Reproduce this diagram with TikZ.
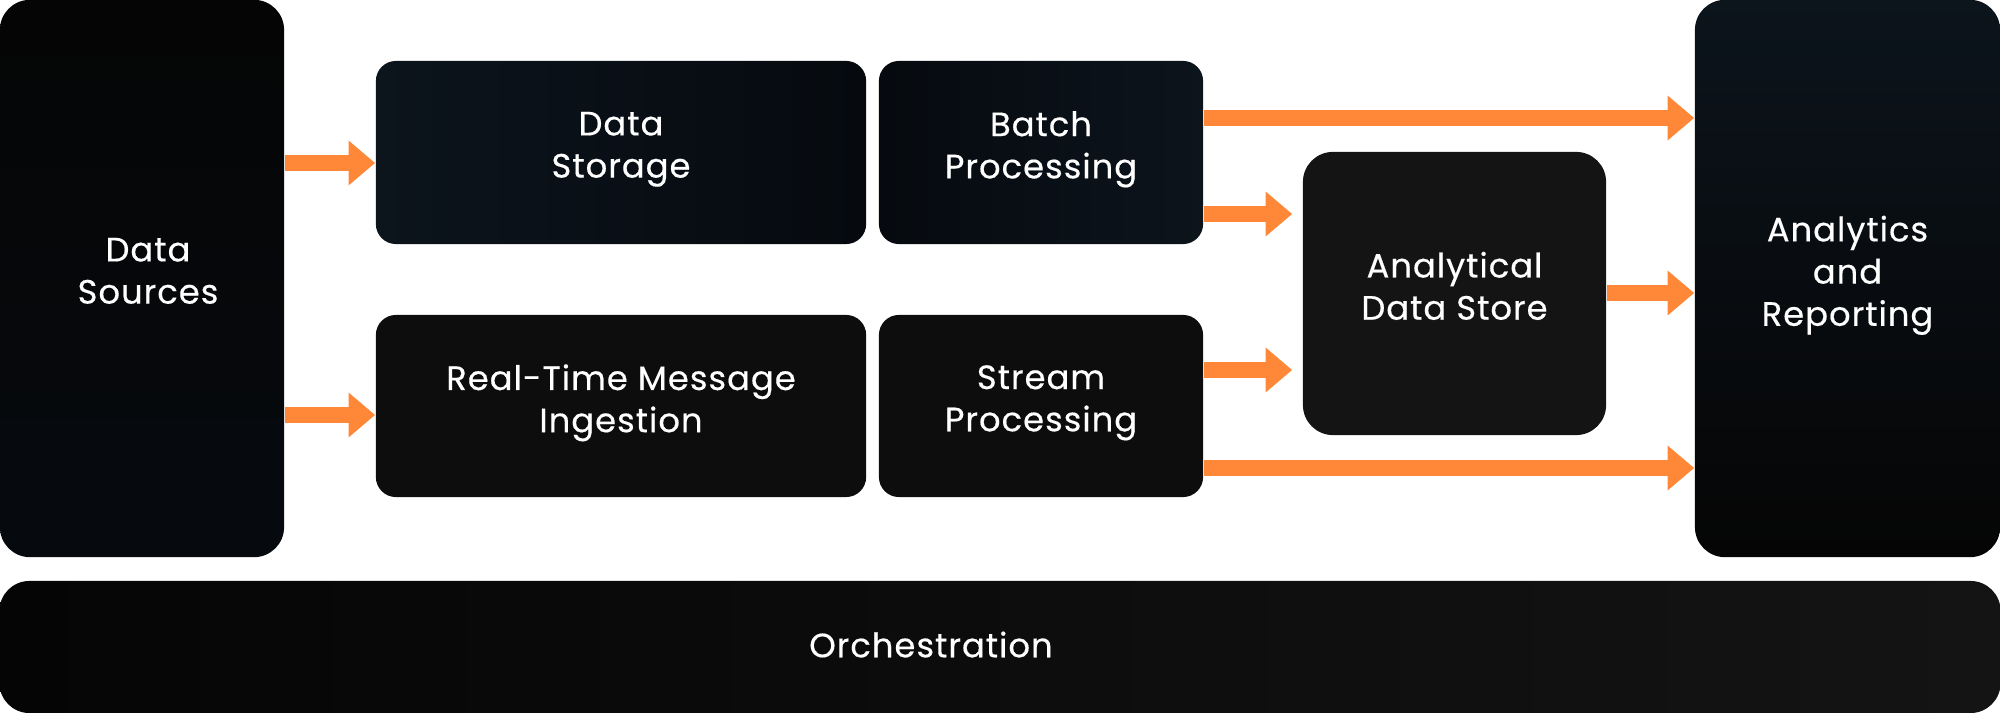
\documentclass[tikz,border=0pt]{standalone}
\usepackage{xcolor}
\usepackage{fontspec}
\setmainfont{Poppins}[LetterSpace=3, FakeBold=0.4]
\usepackage{tikz}
\usetikzlibrary{arrows.meta}

\definecolor{arroworange}{HTML}{FF8738}
\definecolor{boxblack}{HTML}{050505}
\definecolor{boxdark}{HTML}{0D0D0D}
\definecolor{boxgray}{HTML}{141414}
\definecolor{boxblue}{HTML}{0C141C}
\definecolor{boxnavy}{HTML}{060A0F}

\begin{document}
\begin{tikzpicture}[x=0.01cm, y=-0.01cm,
    box/.style={rectangle, rounded corners=0.2cm, text=white, align=center,
        font=\fontsize{9.6}{12}\selectfont,
        execute at begin node={\rule{0pt}{0.36cm}},
        execute at end node={\rule[-0.155cm]{0pt}{0pt}}},
    tallbox/.style={box, rounded corners=0.3cm},
    flow/.style={draw=arroworange, line width=0.16cm,
        -{Triangle[length=0.265cm, width=0.43cm]}}]
    \useasboundingbox (0,0) rectangle (2000,713);

    % Data Sources
    \node[tallbox, top color=boxblack, bottom color=boxnavy, minimum width=2.84cm, minimum height=5.57cm] (src) at (142,278.5) {\hspace*{0.12cm}Data\\\hspace*{0.12cm}Sources};

    % Data Storage
    \node[box, left color=boxblue, right color=boxnavy, minimum width=4.9cm, minimum height=1.83cm] (store) at (621,152.5) {Data\\Storage};

    % Batch Processing
    \node[box, left color=boxnavy, right color=boxblue, minimum width=3.24cm, minimum height=1.83cm] (batch) at (1041,152.5) {Batch\\Processing};

    % Real-Time Message Ingestion
    \node[box, fill=boxdark, minimum width=4.9cm, minimum height=1.82cm] (rt) at (621,406) {Real-Time Message\\Ingestion};

    % Stream Processing
    \node[box, fill=boxdark, minimum width=3.24cm, minimum height=1.82cm] (stream) at (1041,406) {Stream\\Processing};

    % Analytical Data Store
    \node[tallbox, fill=boxgray, minimum width=3.03cm, minimum height=2.83cm] (ads) at (1454.5,293.5) {Analytical\\Data Store};

    % Analytics and Reporting
    \node[tallbox, top color=boxblue, bottom color=boxblack, minimum width=3.05cm, minimum height=5.57cm] (ana) at (1847.5,278.5) {Analytics\\and\\Reporting};

    % Orchestration
    \node[tallbox, left color=boxblack, right color=boxgray, minimum width=20cm, minimum height=1.32cm,
        execute at end node={\rule[-0.05cm]{0pt}{0pt}}] (orch) at (1000,647) {\hspace*{-1.38cm}Orchestration};

    % Arrows
    \draw[flow] (src.east |- 0,163) -- (store.west |- 0,163);
    \draw[flow] (src.east |- 0,415) -- (rt.west |- 0,415);
    \draw[flow] (batch.east |- 0,118) -- (ana.west |- 0,118);
    \draw[flow] (batch.east |- 0,214) -- ([xshift=-0.1cm]ads.west |- 0,214);
    \draw[flow] (stream.east |- 0,370) -- ([xshift=-0.1cm]ads.west |- 0,370);
    \draw[flow] (stream.east |- 0,468) -- (ana.west |- 0,468);
    \draw[flow] (ads.east |- 0,293) -- (ana.west |- 0,293);
\end{tikzpicture}
\end{document}
